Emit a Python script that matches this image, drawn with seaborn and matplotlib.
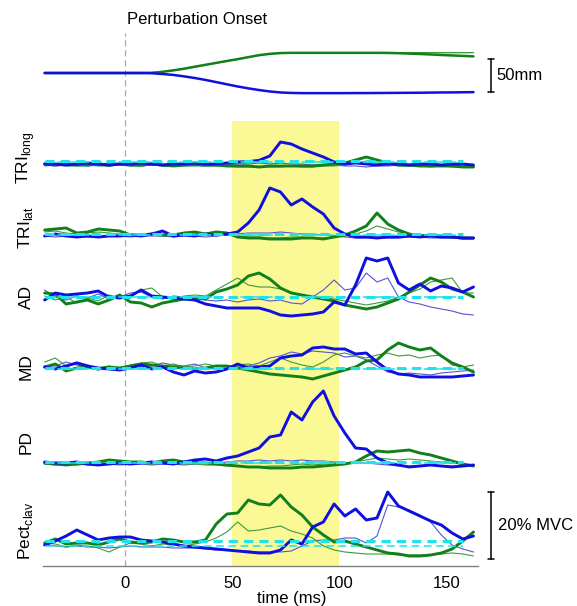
import numpy as np
import matplotlib
matplotlib.use("Agg")
import matplotlib.pyplot as plt
import seaborn as sns

# ----------------------------- DATA -----------------------------
# one sample every 5 ms
times = np.arange(-37.5, 163, 5.0)

# hand displacement (mm)
pos_green = [0, 0, 0, 0, 0, 0, 0, 0, 0, 0,
             0.4, 1.8, 4.0, 6.5, 9.5, 12.4, 15.3, 18.2, 21.0, 24.0,
             27.0, 29.0, 30.2, 30.5, 30.5, 30.5, 30.5, 30.5, 30.5, 30.5,
             30.5, 30.5, 30.4, 30.0, 29.4, 28.8, 28.1, 27.3, 26.6, 25.9, 25.2]
pos_green_thin = [0, 0, 0, 0, 0, 0, 0, 0, 0, 0,
                  0.4, 1.8, 4.0, 6.5, 9.5, 12.4, 15.3, 18.2, 21.0, 24.0,
                  27.0, 29.0, 30.2, 30.6, 30.8, 30.8, 30.8, 30.8, 30.8, 30.8,
                  30.8, 30.8, 30.8, 30.8, 30.8, 30.8, 30.8, 30.8, 30.8, 30.8, 30.8]
pos_blue = [0, 0, 0, 0, 0, 0, 0, 0, 0, 0,
            -0.4, -1.5, -2.9, -5.1, -7.6, -10.5, -13.8, -17.1, -20.4, -23.3,
            -25.8, -28.0, -29.5, -30.2, -30.5, -30.5, -30.5, -30.5, -30.5, -30.4,
            -30.4, -30.3, -30.2, -30.1, -30.0, -29.9, -29.7, -29.5, -29.4, -29.2, -29.0]

# EMG (% MVC, relative to background level)
trilong_blue = [-0.9, -0.9, -1.2, -0.9, -0.6, -0.9, -1.2, -0.9, -0.9, -0.6,
                -0.9, -1.2, -0.9, -0.9, -0.6, -0.9, -0.9, -0.6, -0.3, -0.2,
                0.2, 1.5, 5.7, 5.1, 3.6, 2.4, 1.2, -0.3, -0.9, -0.6,
                -0.9, -1.2, -0.9, -0.9, -1.2, -0.9, -0.9, -1.2, -0.9, -0.9, -1.2]
trilong_green = [-0.9, -1.2, -0.9, -1.2, -1.2, -0.9, -1.2, -0.9, -1.2, -1.2,
                 -0.9, -1.2, -1.5, -1.2, -1.2, -1.2, -1.2, -1.5, -1.5, -1.5,
                 -1.8, -1.5, -1.5, -1.5, -1.5, -1.5, -1.2, -0.9, -0.6, 0.3,
                 1.2, 0.3, -0.6, -1.2, -1.2, -1.5, -1.5, -1.5, -1.5, -1.8, -1.8]
trilong_blue_thin = [-1.2, -1.5, -1.2, -1.2, -1.5, -1.2, -1.5, -1.2, -1.2, -1.5,
                     -1.2, -1.2, -1.5, -1.2, -1.2, -1.5, -1.2, -1.2, -0.9, -0.9,
                     -0.6, -0.9, -0.6, -0.9, -0.9, -1.2, -1.2, -1.2, -1.5, -1.5,
                     -1.8, -1.5, -1.5, -1.2, -1.5, -1.2, -1.2, -1.5, -1.2, -1.2, -1.5]
trilong_green_thin = [-1.5, -1.2, -1.5, -1.5, -1.2, -1.5, -1.5, -1.2, -1.5, -1.5,
                      -1.2, -1.5, -1.5, -1.5, -1.2, -1.5, -1.5, -1.5, -1.8, -1.8,
                      -1.8, -1.8, -1.8, -1.5, -1.8, -1.8, -1.5, -1.5, -1.2, -0.6,
                      0.0, -0.6, -1.2, -1.5, -1.5, -1.5, -1.8, -1.5, -1.8, -1.8, -1.8]

trilat_blue = [-0.6, 0.0, -0.6, -0.9, -0.6, -0.9, -0.6, -0.6, -0.3, -0.6,
               0.0, 0.9, -0.6, -0.3, -0.6, 0.0, -0.3, 0.0, 0.6, 3.3,
               7.2, 13.8, 12.6, 8.7, 10.5, 8.1, 6.0, 1.8, 0.0, -0.9,
               -0.9, -1.2, -0.9, -0.9, -0.6, -0.9, -0.6, -0.9, -0.9, -1.2, -1.2]
trilat_green = [1.2, 1.5, 1.8, 0.3, 0.6, 1.5, 1.2, 0.9, -0.3, -0.3,
                0.0, -0.3, -0.3, 0.3, 0.6, 0.0, 0.6, 0.3, -0.9, -1.2,
                -1.2, -1.5, -1.5, -1.5, -1.2, -1.2, -1.5, -0.9, -0.3, 0.9,
                2.4, 6.3, 3.0, 1.2, 0.0, -0.6, -0.3, -0.6, -0.9, -1.2, -1.2]
trilat_blue_thin = [-0.6, -0.9, -0.6, -0.6, -0.9, -0.9, -0.6, -0.6, -0.9, -0.6,
                    -0.6, -0.6, -0.9, -0.6, -0.6, -0.9, -0.6, -0.3, 0.0, 0.3,
                    0.3, 0.3, 0.6, 0.3, 0.0, 0.0, -0.3, -0.6, -0.9, -1.2,
                    -1.2, -0.9, -1.2, -1.2, -0.9, -0.9, -1.2, -1.2, -1.2, -1.5, -1.5]
trilat_green_thin = [0.6, 0.9, 0.3, 0.0, 0.3, 0.6, 0.3, 0.0, -0.3, -0.6,
                     -0.3, -0.6, -0.3, -0.3, 0.0, -0.3, 0.0, -0.3, -0.6, -0.9,
                     -0.9, -1.2, -1.2, -0.9, -0.9, -1.2, -1.2, -0.9, -0.6, 0.0,
                     0.9, 2.4, 1.5, 0.6, 0.0, -0.3, -0.3, -0.6, -0.9, -0.9, -1.2]

ad_blue = [-0.9, 1.2, 0.6, 0.9, 1.2, 1.8, 0.0, -0.3, 0.3, 2.1,
           0.3, 0.0, -0.3, -0.6, -0.9, -2.1, -2.7, -3.3, -3.3, -3.3,
           -3.3, -4.2, -5.4, -5.7, -5.4, -5.1, -4.5, -1.5, -2.4, 3.6,
           11.7, 10.8, 11.7, 4.2, 2.1, 3.9, 1.8, 3.3, 2.7, 1.5, 3.0]
ad_green = [1.2, 0.9, -2.1, -1.5, -0.9, -2.1, -0.9, 0.6, -1.5, -1.8,
            -3.0, -1.8, -1.2, -0.6, -0.3, -0.6, 1.5, 2.4, 3.6, 6.3,
            7.2, 5.4, 2.7, 1.2, 0.6, 0.0, -0.6, -1.2, -2.4, -3.0,
            -3.6, -3.0, -1.8, -0.6, 1.5, 3.6, 5.7, 4.5, 2.4, 1.5, 0.0]
ad_blue_thin = [2.1, 0.0, -0.9, 0.3, -0.3, 0.9, -0.6, 0.0, 1.2, 1.5,
                0.0, -0.6, 0.3, 0.0, -0.3, -0.9, -1.2, -0.9, -1.5, -0.9,
                -0.6, -1.2, -0.9, -1.8, -2.1, 0.0, 2.1, 5.1, 2.1, 2.7,
                7.2, 4.5, 5.7, 0.0, -1.5, -2.1, -3.0, -3.6, -4.2, -5.1, -5.4]
ad_green_thin = [0.3, -0.9, 0.0, -1.8, -0.3, -1.2, 0.6, -0.3, 0.3, 2.1,
                 2.7, 0.0, -0.6, 0.3, 0.6, 0.3, 2.1, 3.9, 5.7, 3.6,
                 3.0, 3.0, 2.4, 1.5, 0.6, 0.0, -0.3, -0.6, -1.2, -1.8,
                 -2.4, -1.8, -1.2, 0.0, 1.2, 2.4, 4.5, 5.1, 5.7, 1.2, 1.2]

md_blue = [0.3, -0.3, 0.6, 1.5, 0.6, 0.0, -0.3, -0.6, 0.0, 0.9,
           -0.3, 0.3, -1.2, -2.1, -0.9, -1.5, -1.2, -0.3, 1.2, 0.0,
           0.3, 0.6, 3.0, 3.6, 3.9, 6.0, 6.3, 5.7, 5.7, 4.2,
           4.5, 1.8, -0.6, -1.8, -2.1, -2.7, -2.7, -2.7, -2.7, -2.4, -2.1]
md_green = [0.3, 1.2, -0.9, 0.0, 0.3, -0.3, 0.3, 0.0, 0.6, 1.2,
            0.9, 0.6, 0.3, 0.0, -0.3, 0.0, 0.6, 0.6, 0.0, -0.6,
            -1.2, -1.8, -2.1, -2.4, -2.7, -3.3, -2.4, -1.5, -0.6, 0.3,
            2.1, 2.4, 5.4, 7.5, 6.3, 5.4, 6.0, 3.6, 1.5, 0.3, -1.2]
md_blue_thin = [0.6, 0.6, 1.8, 0.9, 0.3, -0.6, 0.0, -0.3, 0.3, 0.6,
                0.6, 1.5, 0.9, 0.6, 1.2, 0.0, -0.3, 0.0, 0.6, 0.6,
                1.5, 3.0, 3.6, 4.8, 4.2, 5.1, 4.8, 4.5, 3.3, 3.6,
                2.4, 0.6, -1.2, -1.8, -1.5, -1.8, -2.1, -1.5, -1.2, -0.9, -0.6]
md_green_thin = [1.8, 3.0, 0.6, 1.8, 0.9, 0.0, 0.6, -0.3, 0.9, 1.5,
                 1.8, 0.6, 1.2, 0.3, 0.6, 1.2, 0.6, -0.3, 0.9, 1.2,
                 0.6, 1.8, 3.0, 1.8, 0.9, 0.3, 1.8, 3.9, 4.5, 3.6,
                 3.0, 3.9, 4.5, 3.6, 3.9, 3.0, 3.6, 3.9, 0.9, 0.3, 0.9]

pd_blue = [0.0, -0.3, -0.3, 0.0, -0.6, -0.9, -0.6, -0.3, -0.6, -0.3,
           0.0, -0.3, -0.6, 0.0, 0.6, 0.9, 0.3, 1.2, 1.8, 3.0,
           4.2, 7.5, 8.1, 15.0, 12.6, 18.0, 21.3, 13.8, 8.7, 4.2,
           3.9, 1.2, -0.3, -0.9, -1.5, -1.2, -0.9, -1.2, -1.5, -1.2, -0.9]
pd_green = [-0.3, -0.6, -0.9, -0.6, -0.3, 0.0, 0.6, 0.3, 0.0, 0.0,
            -0.3, 0.3, 0.6, 0.0, 0.0, -0.3, -0.6, -0.9, -1.2, -1.5,
            -1.5, -1.8, -1.8, -1.8, -1.5, -1.5, -1.2, -0.9, -0.6, 0.0,
            1.8, 3.3, 3.0, 3.3, 3.6, 2.7, 2.1, 1.2, 0.3, -0.6, -1.2]
pd_blue_thin = [-0.6, -0.9, -0.6, -0.6, -0.9, -0.9, -0.6, -0.9, -0.6, -0.6,
                -0.9, -0.6, -0.6, -0.9, -0.6, -0.3, -0.3, 0.0, 0.3, 0.3,
                0.6, 0.3, 0.6, 0.3, 0.6, 0.3, 0.3, 0.0, -0.3, -0.3,
                -0.3, -0.6, -0.9, -1.2, -1.2, -1.2, -0.9, -1.2, -1.2, -0.9, -0.9]
pd_green_thin = [-0.6, -0.3, -0.6, -0.9, -0.6, -0.3, -0.3, -0.6, -0.6, -0.3,
                 -0.6, -0.3, -0.3, -0.6, -0.6, -0.9, -0.9, -1.2, -1.2, -1.5,
                 -1.5, -1.2, -1.2, -0.9, -0.6, -0.9, -0.6, -0.3, -0.3, 0.0,
                 0.6, 1.2, 0.9, 0.6, 0.9, 0.6, 0.3, 0.0, -0.3, -0.6, -0.9]

pect_blue = [-1.2, 0.0, 1.5, 3.3, 1.8, 0.3, 0.9, 1.2, 1.2, 0.3,
             0.0, -0.3, -0.9, -1.5, -1.8, -2.1, -2.4, -2.7, -3.0, -3.3,
             -3.6, -3.6, -2.7, 0.3, -0.9, 4.2, 5.7, 11.1, 7.5, 9.6,
             6.3, 6.9, 14.7, 10.5, 9.0, 7.5, 6.0, 4.8, 2.4, 0.6, 1.5]
pect_green = [-0.6, 0.6, -0.9, -0.6, -0.6, -1.2, -0.3, 0.6, -0.3, -0.6,
              -0.3, 0.6, 0.3, -0.3, -0.3, 0.3, 5.1, 8.1, 8.4, 12.3,
              11.1, 10.8, 13.8, 10.2, 7.8, 4.2, 1.8, -0.3, 0.0, -0.9,
              -1.8, -2.7, -3.6, -3.9, -4.5, -4.5, -4.2, -3.6, -2.4, 0.0, 2.7]
pect_blue_thin = [-1.2, -1.5, -1.8, -1.5, -1.8, -1.8, -2.1, -1.8, -1.5, -1.8,
                  -1.8, -1.8, -2.1, -2.1, -2.1, -2.4, -2.7, -2.7, -3.0, -3.0,
                  -3.3, -3.3, -3.3, -3.0, -1.5, 0.0, 0.3, 0.3, 0.9, 0.9,
                  -0.6, 1.5, 10.8, 10.2, 9.3, 7.8, 5.7, 1.8, -1.2, -2.4, -3.3]
pect_green_thin = [-0.6, -0.9, -1.8, -1.2, -1.5, -2.1, -3.3, -1.8, -0.6, -0.9,
                   -1.5, -0.9, -1.2, -1.5, -0.9, -0.3, 0.9, 2.7, 5.7, 3.0,
                   3.3, 3.9, 4.5, 3.0, 2.1, 0.9, -1.5, -2.7, -3.3, -3.6,
                   -3.9, -3.9, -3.9, -4.2, -4.2, -4.2, -4.2, -3.9, -3.6, -3.9, -4.5]

channel_labels = [r"TRI$_{\mathregular{long}}$", r"TRI$_{\mathregular{lat}}$", "AD", "MD", "PD",
                  r"Pect$_{\mathregular{clav}}$"]
thin_background = [-0.3, -0.3, 0.0, -0.3, -0.3, -1.5]  # % MVC, second condition
window = (50, 100)
xticks = [0, 50, 100, 150]
pos_bar_mm = 50
emg_bar_pct = 20

# ----------------------------- LAYOUT -----------------------------
offsets = [121.5, 99.6, 80.7, 59.4, 31.2, 7.5]      # vertical stacking of channels
label_y = [122.4, 101.4, 80.7, 59.7, 37.2, 10.5]
pos_offset = 147.9
mm_scale = 0.198                                     # plot units per mm

BLUE, GREEN = "#0f0fe0", "#12801a"
BLUE_THIN, GREEN_THIN = "#5555d2", "#3d9a3d"
CYAN = "#1ee3ea"

sns.set_style("white")
plt.rcParams["font.family"] = ["Liberation Sans", "DejaVu Sans"]
plt.rcParams["mathtext.fontset"] = "custom"
plt.rcParams["mathtext.rm"] = "Liberation Sans"
plt.rcParams["text.color"] = "black"
plt.rcParams["axes.labelcolor"] = "black"

fig = plt.figure(figsize=(5.77, 6.06), dpi=100)
ax = fig.add_axes([42.7 / 577, 40 / 606, 435.3 / 577, 536 / 606])

ax.axvspan(window[0], window[1], ymax=133.5 / 160.8, color="#fbf896", lw=0, zorder=0)
ax.axvline(0, ymax=159.9 / 160.8, color="#a8a8a8", lw=0.9, ls=(0, (5, 3)), zorder=1)

# position traces
sns.lineplot(x=times, y=pos_offset + np.array(pos_green_thin) * mm_scale, ax=ax,
             color=GREEN_THIN, lw=1.0, zorder=2)
sns.lineplot(x=times, y=pos_offset + np.array(pos_green) * mm_scale, ax=ax,
             color=GREEN, lw=1.8, zorder=3)
sns.lineplot(x=times, y=pos_offset + np.array(pos_blue) * mm_scale, ax=ax,
             color=BLUE, lw=1.8, zorder=3)

emg = [
    (trilong_blue, trilong_green, trilong_blue_thin, trilong_green_thin),
    (trilat_blue, trilat_green, trilat_blue_thin, trilat_green_thin),
    (ad_blue, ad_green, ad_blue_thin, ad_green_thin),
    (md_blue, md_green, md_blue_thin, md_green_thin),
    (pd_blue, pd_green, pd_blue_thin, pd_green_thin),
    (pect_blue, pect_green, pect_blue_thin, pect_green_thin),
]

for (b, g, bt, gt), off, lab, ly, bg in zip(emg, offsets, channel_labels, label_y, thin_background):
    sns.lineplot(x=times, y=off + np.array(bt), ax=ax, color=BLUE_THIN, lw=0.8, zorder=2)
    sns.lineplot(x=times, y=off + np.array(gt), ax=ax, color=GREEN_THIN, lw=0.8, zorder=2)
    sns.lineplot(x=times, y=off + np.array(g), ax=ax, color=GREEN, lw=2.1, zorder=3)
    sns.lineplot(x=times, y=off + np.array(b), ax=ax, color=BLUE, lw=2.1, zorder=4)
    ax.hlines(off + bg, times[0], 157.5, color=CYAN, lw=1.1, ls=(0, (5, 3)), zorder=5)
    ax.hlines(off, times[0], 157.5, color=CYAN, lw=2.2, ls=(0, (3, 2)), zorder=5)
    ax.text(-46.2, ly, lab, rotation=90, ha="center", va="center", fontsize=12.5, clip_on=False)

# scale bars
bx = 170.6
for y0, y1 in [(142.1, 142.1 + pos_bar_mm * mm_scale), (2.1, 2.1 + emg_bar_pct)]:
    ax.plot([bx, bx], [y0, y1], color="k", lw=1.1, clip_on=False)
    ax.plot([bx - 1.3, bx + 1.3], [y0, y0], color="k", lw=1.1, clip_on=False)
    ax.plot([bx - 1.3, bx + 1.3], [y1, y1], color="k", lw=1.1, clip_on=False)
ax.text(bx + 2.5, 142.1 + pos_bar_mm * mm_scale / 2, f"{pos_bar_mm}mm", fontsize=12,
        va="center", ha="left", clip_on=False)
ax.text(bx + 3.2, 2.1 + emg_bar_pct / 2, f"{emg_bar_pct}% MVC", fontsize=12,
        va="center", ha="left", clip_on=False)

fig.text(127 / 577, 1 - 19 / 606, "Perturbation Onset", fontsize=12, ha="left", va="center")

ax.set_xlim(-38.4, 164.6)
ax.set_ylim(0, 160.8)
ax.set_xticks(xticks)
ax.set_yticks([])
ax.tick_params(axis="x", direction="in", length=3.5, color="#808080", labelsize=12,
               labelcolor="black", pad=7)
ax.set_xlabel("time (ms)", fontsize=12)
ax.xaxis.set_label_coords(0.573, -0.046)
sns.despine(ax=ax, left=True)
ax.spines["bottom"].set_color("#808080")
ax.spines["bottom"].set_linewidth(1.0)

fig.savefig("out.png", dpi=100)
plt.close(fig)
